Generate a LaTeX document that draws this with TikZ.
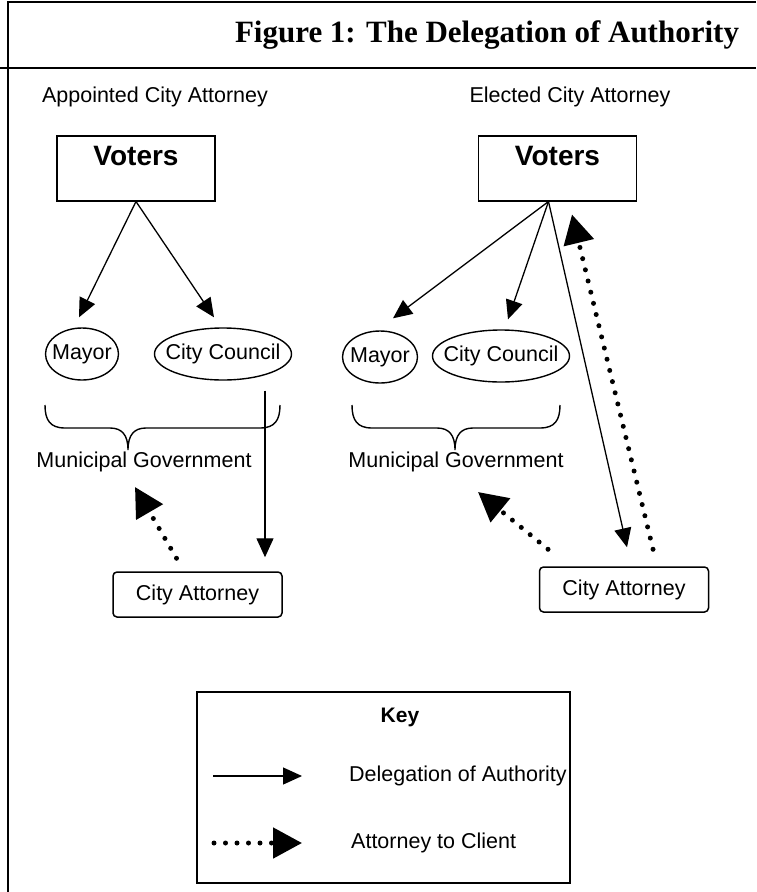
\documentclass[tikz,border=0pt]{standalone}
\usepackage{fontspec}
\setmainfont{Liberation Serif}
\setsansfont{Liberation Sans}
\usepackage{tikz}
\usetikzlibrary{arrows.meta,shapes.geometric}
\usetikzlibrary{calc}
\newcommand{\govbrace}[4]{
\draw[line width=1.4pt] (#1,#4) .. controls (#1,#4+15) and (#1+5,#4+23) .. (#1+20,#4+23)
 -- (#2-18,#4+23) .. controls (#2-6,#4+23) and (#2,#4+30) .. (#2,#4+45)
 .. controls (#2,#4+30) and (#2+6,#4+23) .. (#2+18,#4+23)
 -- (#3-20,#4+23) .. controls (#3-5,#4+23) and (#3,#4+15) .. (#3,#4);}
\tikzset{
txt/.style={font=\sffamily\fontsize{21.5}{24}\selectfont,inner sep=0pt},
votersbox/.style={draw,line width=1.5pt,minimum width=158pt,inner sep=0pt,text height=30pt,text depth=35pt,font=\sffamily\bfseries\fontsize{28}{30}\selectfont},
oval/.style={ellipse,draw,line width=1.4pt,txt,inner xsep=-10pt,inner ysep=0pt,minimum height=52pt},
attybox/.style={draw,rounded corners=4pt,line width=1.5pt,minimum width=169pt,minimum height=45pt,txt},
deleg/.style={line width=1.3pt,-{Triangle[length=19pt,width=17pt]}},
client/.style={line width=5pt,line cap=round,dash pattern=on 0pt off 11.5pt,-{Triangle[length=29pt,width=30pt]}}
}

\begin{document}
\begin{tikzpicture}[x=1pt,y=-1pt]
\useasboundingbox (0,0) rectangle (756,892);
\draw[line width=2pt] (8,892)--(8,2)--(756,2);
\draw[line width=2pt] (0,68)--(756,68);
\node[font=\bfseries\fontsize{31}{34}\selectfont] (title) at (487,35) {Figure 1: The Delegation of Authority};
\node[txt] (hdL) at (155,97) {Appointed City Attorney};
\node[txt] (hdR) at (570,97) {Elected City Attorney};

\node[votersbox,anchor=north] (vL) at (136,135) {Voters};
\node[oval,minimum width=73pt] (mayL) at (82,354) {Mayor};
\node[oval,minimum width=137pt] (ccL) at (223,354) {City Council};
\govbrace{45}{128}{280}{405}
\node[txt] (mgL) at (144,462) {Municipal Government};
\node[attybox] (caL) at (197.5,594.5) {City Attorney};
\draw[deleg] (vL.south) -- ($(mayL.north)+(-3,-10)$);
\draw[deleg] (vL.south) -- ($(ccL.north)+(-9,-10)$);
\draw[deleg] ($(ccL.south)+(42,10)$) -- ($(caL.north)+(67.5,-14)$);
\draw[client] ($(caL.north)+(-21,-13)$) -- ($(mgL.center)+(-9,25)$);

\node[votersbox,anchor=north] (vR) at (557.5,135) {Voters};
\node[oval,minimum width=75pt] (mayR) at (380,357) {Mayor};
\node[oval,minimum width=137pt] (ccR) at (501,356) {City Council};
\govbrace{352}{455}{560}{405}
\node[txt] (mgR) at (456,462) {Municipal Government};
\node[attybox] (caR) at (624,589.5) {City Attorney};
\draw[deleg] ($(vR.south)+(-9,0)$) -- ($(mayR.north)+(13,-12)$);
\draw[deleg] ($(vR.south)+(-9,0)$) -- ($(ccR.north)+(7,-10)$);
\draw[deleg] ($(vR.south)+(-9,0)$) -- ($(caR.north)+(3,-19)$);
\draw[client] ($(caR.north)+(29,-17)$) -- ($(vR.south)+(14.5,13)$);
\draw[client] ($(caR.north)+(-76,-17)$) -- ($(mgR.center)+(22,30)$);

\node[draw,line width=1.5pt,minimum width=373pt,minimum height=191pt] (keybox) at (383.5,787.5) {};
\node[txt,font=\sffamily\bfseries\fontsize{21}{24}\selectfont] (keyhd) at (400,717) {Key};
\coordinate (kd1) at (213,776);
\coordinate (kd2) at (302,776);
\draw[deleg] (kd1) -- (kd2);
\node[txt,anchor=west] (kdlab) at (349,776) {Delegation of Authority};
\coordinate (kc1) at (214,843);
\coordinate (kc2) at (302,843);
\draw[client] (kc1) -- (kc2);
\node[txt,anchor=west] (kclab) at (351,843) {Attorney to Client};
\end{tikzpicture}
\end{document}
